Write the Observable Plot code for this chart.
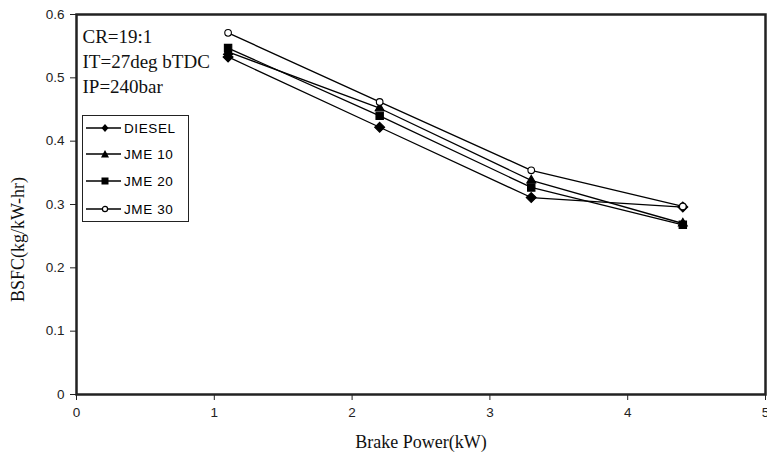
<!DOCTYPE html>
<html>
<head>
<meta charset="utf-8">
<script src="https://cdn.jsdelivr.net/npm/d3@7"></script>
<script src="https://cdn.jsdelivr.net/npm/@observablehq/plot@0.6"></script>
<style>
  html, body { margin: 0; padding: 0; background: #fff; }
  #wrap { position: relative; width: 767px; height: 460px; }
  #legend { position: absolute; left: 82px; top: 115px; width: 107px; height: 107px;
    border: 1.5px solid #222; background: #fff; box-sizing: border-box;
    font-family: "Liberation Sans", Arial, sans-serif; font-size: 13.5px; color: #000; letter-spacing: 0.6px; }
  .item { position: absolute; left: 2px; height: 14px; display: flex; align-items: center; }
  .item svg { display: block; }
  .item span { margin-left: 3px; }
</style>
</head>
<body>
<div id="wrap"></div>
<script>
const power = [1.1, 2.2, 3.3, 4.4];
const seriesNames = ["DIESEL", "JME10", "JME20", "JME30"];
const legendLabels = ["DIESEL", "JME 10", "JME 20", "JME 30"];
const diesel = [0.533, 0.422, 0.311, 0.296];
const jme10  = [0.541, 0.452, 0.338, 0.270];
const jme20  = [0.547, 0.440, 0.327, 0.268];
const jme30  = [0.571, 0.462, 0.354, 0.297];
const xTicks = [0, 1, 2, 3, 4, 5];
const yTicks = [0, 0.1, 0.2, 0.3, 0.4, 0.5, 0.6];
const notes = "CR=19:1\nIT=27deg bTDC\nIP=240bar";
const xTitle = "Brake Power(kW)";
const yTitle = "BSFC(kg/kW-hr)";

const symbols = {DIESEL: "diamond2", JME10: "triangle2", JME20: "square2", JME30: "circle"};
const fills = {DIESEL: "black", JME10: "black", JME20: "black", JME30: "white"};
const sizes = {DIESEL: 20, JME10: 18, JME20: 22, JME30: 11};

const valuesBySeries = [diesel, jme10, jme20, jme30];
const rows = [];
seriesNames.forEach((s, i) => power.forEach((p, j) => rows.push({series: s, x: p, y: valuesBySeries[i][j]})));

const serif = "'Liberation Serif', 'Times New Roman', serif";
const yFmt = d => d === 0 ? "0" : d3.format(".1f")(d);

const chart = Plot.plot({
  width: 767, height: 460,
  marginLeft: 76, marginRight: 2, marginTop: 14, marginBottom: 66,
  style: {fontFamily: "'Liberation Sans', Arial, sans-serif", fontSize: "13px", color: "#000", background: "#fff", overflow: "visible"},
  x: {domain: [0, 5]},
  y: {domain: [0, 0.6]},
  marks: [
    Plot.axisX({ticks: xTicks, tickSize: 6, tickPadding: 7, tickFormat: d3.format("d"), fontSize: 13.5, fill: "#222",
      stroke: "#222", label: null}),
    Plot.axisY({ticks: yTicks, tickSize: 6, tickPadding: 6, tickFormat: yFmt, fontSize: 13.5, fill: "#222",
      stroke: "#222", label: null}),
    Plot.frame({stroke: "#222", strokeWidth: 2.5}),
    Plot.line(rows, {x: "x", y: "y", z: "series", stroke: "#000", strokeWidth: 1.3}),
    ...seriesNames.map(s => Plot.dot(rows.filter(r => r.series === s), {x: "x", y: "y",
      symbol: () => symbols[s], fill: fills[s], stroke: "#000", strokeWidth: 1.1, r: Math.sqrt(sizes[s])})),
    Plot.text([notes], {frameAnchor: "top-left", dx: 6, dy: 10, lineAnchor: "top", lineHeight: 1.34,
      fontFamily: serif, fontSize: 19, fill: "#111", textAnchor: "start"}),
    Plot.text([xTitle], {frameAnchor: "bottom", dy: 53, fontFamily: serif, fontSize: 18, fill: "#111"}),
    Plot.text([yTitle], {frameAnchor: "left", dx: -58, dy: 35, rotate: -90, textAnchor: "middle",
      fontFamily: serif, fontSize: 18, fill: "#111"})
  ]
});

const wrap = document.getElementById("wrap");
wrap.appendChild(chart);

const legend = document.createElement("div");
legend.id = "legend";
const symPaths = {
  DIESEL: '<path d="M20,2 L23.5,6 L20,10 L16.5,6Z" fill="black"/>',
  JME10: '<path d="M20,2 L24,9.5 L16,9.5Z" fill="black"/>',
  JME20: '<rect x="16.5" y="2.5" width="7" height="7" fill="black"/>',
  JME30: '<circle cx="20" cy="6" r="2.6" fill="white" stroke="black" stroke-width="1.2"/>'
};
const tops = [5, 31, 58, 86];
seriesNames.forEach((s, i) => {
  const item = document.createElement("div");
  item.className = "item";
  item.style.top = tops[i] + "px";
  item.innerHTML = `<svg width="36" height="12"><line x1="1" y1="6" x2="36" y2="6" stroke="black" stroke-width="1.3"/>${symPaths[s]}</svg><span>${legendLabels[i]}</span>`;
  legend.appendChild(item);
});
wrap.appendChild(legend);
</script>
</body>
</html>
